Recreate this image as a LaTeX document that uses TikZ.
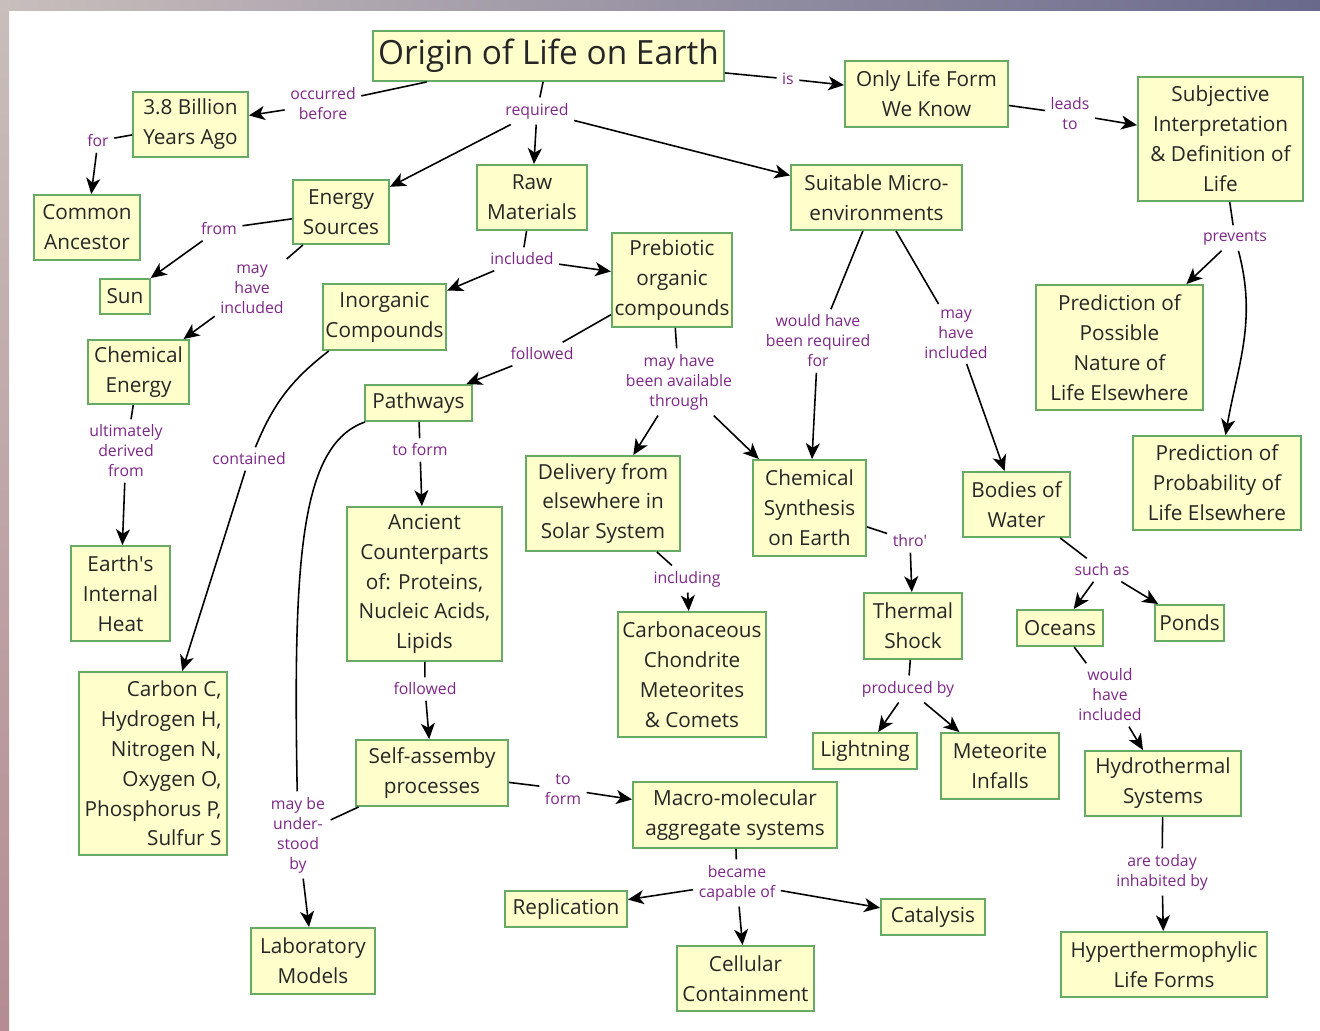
\documentclass[tikz,border=0pt]{standalone}
\usepackage{fontspec}
\setmainfont{Open Sans}
\usepackage{xcolor}
\usetikzlibrary{arrows.meta}

\definecolor{boxfill}{RGB}{255,255,204}
\definecolor{boxedge}{RGB}{102,170,102}
\definecolor{relcol}{RGB}{125,40,135}
\definecolor{stripA}{RGB}{200,190,188}
\definecolor{stripB}{RGB}{105,105,140}
\definecolor{stripC}{RGB}{200,160,110}
\definecolor{stripD}{RGB}{180,140,145}

\begin{document}
\begin{tikzpicture}[
    x=0.02cm, y=-0.02cm,
    box/.style={rectangle, draw=boxedge, fill=boxfill, line width=1.1pt, align=center,
        inner sep=1.5pt, text=black!85, font=\fontsize{11.8}{17}\selectfont},
    dims/.style 2 args={minimum width=#1cm, minimum height=#2cm},
    rel/.style={align=center, text=relcol, inner sep=3pt, font=\fontsize{9}{11.4}\selectfont},
    link/.style={line width=0.9pt},
    arrow/.style={link, -{Stealth[length=9pt, width=8pt, inset=2.5pt]}}
]
\useasboundingbox (0,0) rectangle (1320,1031);

% Frame strips
\shade[left color=stripA, right color=stripB] (0,0) rectangle (1320,10);
\shade[top color=stripA, middle color=stripC, bottom color=stripD] (0,0) rectangle (9,1031);

% Concepts
\node[box, dims={7.02}{1.00}, font=\fontsize{19}{22}\selectfont] (origin) at (548.5,56) {Origin of Life on Earth};
\node[box, dims={2.30}{1.30}] (billion) at (190.5,124.5) {3.8 Billion\\Years Ago};
\node[box, dims={2.12}{1.30}] (ancestor) at (87,227.5) {Common\\Ancestor};
\node[box, dims={1.92}{1.28}] (energy) at (341,212) {Energy\\Sources};
\node[box, dims={2.20}{1.30}] (raw) at (532,197.5) {Raw\\Materials};
\node[box, dims={3.42}{1.30}] (suitable) at (876.5,197.5) {Suitable Micro-\\environments};
\node[box, dims={3.26}{1.32}] (onlylife) at (926.5,94) {Only Life Form\\We Know};
\node[box, dims={3.30}{2.48}] (subjective) at (1220.5,139) {Subjective\\Interpretation\\\& Definition of\\Life};
\node[box, dims={1.00}{0.70}] (sun) at (125,296.5) {Sun};
\node[box, dims={2.02}{1.28}] (chemenergy) at (138.5,372) {Chemical\\Energy};
\node[box, dims={2.38}{1.32}] (inorganic) at (384.5,317) {Inorganic\\Compounds};
\node[box, dims={2.36}{1.88}] (prebiotic) at (672,280) {Prebiotic\\organic\\compounds};
\node[box, dims={3.34}{2.50}] (possible) at (1119.5,347.5) {Prediction of\\Possible\\Nature of\\Life Elsewhere};
\node[box, dims={3.36}{1.88}] (probab) at (1217,483) {Prediction of\\Probability of\\Life Elsewhere};
\node[box, dims={2.14}{0.72}] (pathways) at (418.5,403) {Pathways};
\node[box, dims={3.08}{1.90}] (delivery) at (603,503.5) {Delivery from\\elsewhere in\\Solar System};
\node[box, dims={2.26}{1.92}] (chemsyn) at (809.5,508) {Chemical\\Synthesis\\on Earth};
\node[box, dims={2.14}{1.30}] (bodies) at (1016.5,504.5) {Bodies of\\Water};
\node[box, dims={1.98}{1.90}] (earthheat) at (120.5,593.5) {Earth\textquotesingle s\\Internal\\Heat};
\node[box, dims={3.10}{3.08}] (ancient) at (424.5,584) {Ancient\\Counterparts\\of: Proteins,\\Nucleic Acids,\\Lipids};
\node[box, dims={2.96}{2.50}] (chondrite) at (692,674.5) {Carbonaceous\\Chondrite\\Meteorites\\\& Comets};
\node[box, dims={1.96}{1.32}] (thermal) at (913,626) {Thermal\\Shock};
\node[box, dims={1.72}{0.72}] (oceans) at (1060,628) {Oceans};
\node[box, dims={1.38}{0.72}] (ponds) at (1189.5,623) {Ponds};
\node[box, dims={2.96}{3.66}, align=right] (elements) at (153,763.5) {Carbon C,\\Hydrogen H,\\Nitrogen N,\\Oxygen O,\\Phosphorus P,\\Sulfur S};
\node[box, dims={3.04}{1.32}] (selfasm) at (432,773) {Self-assemby\\processes};
\node[box, dims={2.08}{0.72}] (lightning) at (865,751) {Lightning};
\node[box, dims={2.36}{1.32}] (meteorite) at (1000,766) {Meteorite\\Infalls};
\node[box, dims={3.12}{1.30}] (hydro) at (1163,783.5) {Hydrothermal\\Systems};
\node[box, dims={4.08}{1.32}] (macro) at (735,815) {Macro-molecular\\aggregate systems};
\node[box, dims={2.44}{0.72}] (replication) at (566,909) {Replication};
\node[box, dims={2.08}{0.72}] (catalysis) at (933,917) {Catalysis};
\node[box, dims={2.74}{1.30}] (cellular) at (745.5,978.5) {Cellular\\Containment};
\node[box, dims={2.48}{1.32}] (labmodels) at (313,961) {Laboratory\\Models};
\node[box, dims={4.12}{1.30}] (hyper) at (1164,964.5) {Hyperthermophylic\\Life Forms};

% Linking phrases
\node[rel] (occurred) at (323,104) {occurred\\before};
\node[rel] (is) at (788,79) {is};
\node[rel] (leads) at (1070,114) {leads\\to};
\node[rel] (required) at (537,111) {required};
\node[rel] (for) at (98,141) {for};
\node[rel] (from) at (219,229) {from};
\node[rel] (mayinc) at (252,289) {may\\have\\included};
\node[rel] (included) at (522,259) {included};
\node[rel] (prevents) at (1235,238) {prevents};
\node[rel] (followed) at (542,354) {followed};
\node[rel] (available) at (679,382) {may have\\been available\\through};
\node[rel] (wouldreq) at (818,341) {would have\\been required\\for};
\node[rel] (mayinc2) at (956,334) {may\\have\\included};
\node[rel] (derived) at (126,451) {ultimately\\derived\\from};
\node[rel] (contained) at (249,459) {contained};
\node[rel] (toform) at (420,450) {to form};
\node[rel] (including) at (687,579) {including};
\node[rel] (thro) at (910,541) {thro\textquotesingle};
\node[rel] (suchas) at (1102,570) {such as};
\node[rel] (produced) at (908,689) {produced by};
\node[rel] (followed2) at (425,689) {followed};
\node[rel] (wouldinc) at (1110,695) {would\\have\\included};
\node[rel] (toform2) at (563,789) {to\\form};
\node[rel] (understood) at (298,835) {may be\\under-\\stood\\by};
\node[rel] (became) at (737,883) {became\\capable of};
\node[rel] (inhabited) at (1162,872) {are today\\inhabited by};

% Top level
\draw[link] (origin) -- (occurred);
\draw[arrow] (occurred) -- (billion);
\draw[link] (origin) -- (is);
\draw[arrow] (is) -- (onlylife);
\draw[link] (onlylife) -- (leads);
\draw[arrow] (leads) -- (subjective);
\draw[link] (origin) -- (required);
\draw[arrow] (required) -- (energy);
\draw[arrow] (required) -- (raw);
\draw[arrow] (required) -- (suitable);
\draw[link] (billion) -- (for);
\draw[arrow] (for) -- (ancestor);

% Energy and raw materials
\draw[link] (energy) -- (from);
\draw[arrow] (from) -- (sun);
\draw[link] (energy) -- (mayinc);
\draw[arrow] (mayinc) -- (chemenergy);
\draw[link] (chemenergy) -- (derived);
\draw[arrow] (derived) -- (earthheat);
\draw[link] (raw) -- (included);
\draw[arrow] (included) -- (inorganic);
\draw[arrow] (included) -- (prebiotic);
\draw[link] (inorganic) to[bend right=15] (contained);
\draw[arrow] (contained) -- (elements);

% Prebiotic branch
\draw[link] (prebiotic) -- (followed);
\draw[arrow] (followed) -- (pathways);
\draw[link] (pathways) -- (toform);
\draw[arrow] (toform) -- (ancient);
\draw[link] (ancient) -- (followed2);
\draw[arrow] (followed2) -- (selfasm);
\draw[link] (selfasm) -- (toform2);
\draw[arrow] (toform2) -- (macro);
\draw[link] (pathways) .. controls (300,445) and (293,560) .. (understood);
\draw[link] (selfasm) -- (understood);
\draw[arrow] (understood) -- (labmodels);
\draw[link] (macro) -- (became);
\draw[arrow] (became) -- (replication);
\draw[arrow] (became) -- (catalysis);
\draw[arrow] (became) -- (cellular);
\draw[link] (prebiotic) -- (available);
\draw[arrow] (available) -- (delivery);
\draw[arrow] (available) -- (chemsyn);
\draw[link] (delivery) -- (including);
\draw[arrow] (including) -- (chondrite);

% Micro-environments
\draw[link] (suitable) -- (wouldreq);
\draw[arrow] (wouldreq) -- (chemsyn);
\draw[link] (suitable) -- (mayinc2);
\draw[arrow] (mayinc2) -- (bodies);
\draw[link] (chemsyn) -- (thro);
\draw[arrow] (thro) -- (thermal);
\draw[link] (thermal) -- (produced);
\draw[arrow] (produced) -- (lightning);
\draw[arrow] (produced) -- (meteorite);
\draw[link] (bodies) -- (suchas);
\draw[arrow] (suchas) -- (oceans);
\draw[arrow] (suchas) -- (ponds);
\draw[link] (oceans) -- (wouldinc);
\draw[arrow] (wouldinc) -- (hydro);
\draw[link] (hydro) -- (inhabited);
\draw[arrow] (inhabited) -- (hyper);

% Definition of life
\draw[link] (subjective) -- (prevents);
\draw[arrow] (prevents) -- (possible);
\draw[arrow] (prevents) to[out=-75, in=80] (probab);

\end{tikzpicture}
\end{document}
